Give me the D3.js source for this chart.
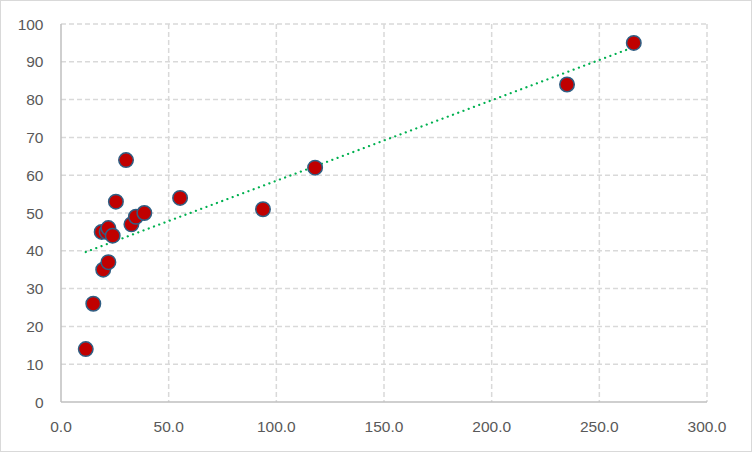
<!DOCTYPE html>
<html><head><meta charset="utf-8">
<script src="https://cdn.jsdelivr.net/npm/d3@7"></script>
<style>body{margin:0;background:#fff}svg{display:block}</style>
</head><body><svg id="c" width="752" height="452"></svg>
<script>
const xValues = [11.5, 15, 19.6, 22, 18.9, 21.2, 22, 24, 25.5, 30.2, 32.7, 34.8, 38.7, 55.3, 93.8, 118, 235, 266];
const yValues = [14, 26, 35, 37, 45, 45, 46, 44, 53, 64, 47, 49, 50, 54, 51, 62, 84, 95];
const xTicks = [0, 50, 100, 150, 200, 250, 300];
const yTicks = [0, 10, 20, 30, 40, 50, 60, 70, 80, 90, 100];

const svg = d3.select('#c');
svg.append('rect').attr('x',0.5).attr('y',0.5).attr('width',751).attr('height',451)
  .attr('fill','#fff').attr('stroke','#d9d9d9');
const L=61, R=707, T=24, B=402;
const x = d3.scaleLinear().domain([0,300]).range([L,R]);
const y = d3.scaleLinear().domain([0,100]).range([B,T]);

const g = svg.append('g');
// gridlines
g.selectAll('.hg').data(yTicks.filter(d=>d>0)).join('line')
  .attr('x1',L).attr('x2',R).attr('y1',d=>y(d)).attr('y2',d=>y(d))
  .attr('stroke','#d9d9d9').attr('stroke-width',1.5).attr('stroke-dasharray','5,3');
g.selectAll('.vg').data(xTicks.filter(d=>d>0)).join('line')
  .attr('y1',T).attr('y2',B).attr('x1',d=>x(d)).attr('x2',d=>x(d))
  .attr('stroke','#d9d9d9').attr('stroke-width',1.5).attr('stroke-dasharray','5,3');
// axes lines
g.append('line').attr('x1',L).attr('x2',L).attr('y1',T).attr('y2',B).attr('stroke','#bfbfbf').attr('stroke-width',1.5);
g.append('line').attr('x1',L).attr('x2',R).attr('y1',B).attr('y2',B).attr('stroke','#bfbfbf').attr('stroke-width',1.5);

// tick labels
g.selectAll('.yl').data(yTicks).join('text')
  .attr('x',43.5).attr('y',d=>y(d)+5.5).attr('text-anchor','end')
  .attr('font-family','Liberation Sans, Arial, sans-serif').attr('font-size',15.5).attr('fill','#595959')
  .text(d=>d);
g.selectAll('.xl').data(xTicks).join('text')
  .attr('x',d=>x(d)).attr('y',431.5).attr('text-anchor','middle')
  .attr('font-family','Liberation Sans, Arial, sans-serif').attr('font-size',15.5).attr('fill','#595959')
  .text(d=>d.toFixed(1));

// trendline (least squares)
const n = xValues.length;
const mx = d3.mean(xValues), my = d3.mean(yValues);
let sxy=0, sxx=0;
for(let i=0;i<n;i++){sxy+=(xValues[i]-mx)*(yValues[i]-my);sxx+=(xValues[i]-mx)**2;}
const slope=sxy/sxx, icpt=my-slope*mx;
const x0=d3.min(xValues), x1=d3.max(xValues);
g.append('line').attr('x1',x(x0)).attr('y1',y(icpt+slope*x0)).attr('x2',x(x1)).attr('y2',y(icpt+slope*x1))
  .attr('stroke','#00b050').attr('stroke-width',2.2).attr('stroke-dasharray','0.1,5.5').attr('stroke-linecap','round');

// points
g.selectAll('.pt').data(xValues.map((v,i)=>[v,yValues[i]])).join('circle')
  .attr('cx',d=>x(d[0])).attr('cy',d=>y(d[1])).attr('r',7.25)
  .attr('fill','#c00000').attr('stroke','#2f5f84').attr('stroke-width',1.5);
</script></body></html>
